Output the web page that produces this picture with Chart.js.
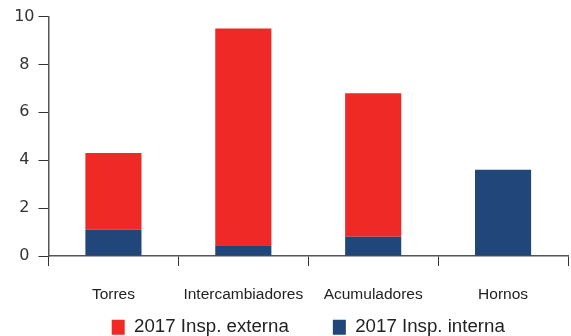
<!DOCTYPE html>
<html>
<head>
<meta charset="utf-8">
<script src="https://cdn.jsdelivr.net/npm/chart.js@4/dist/chart.umd.min.js"></script>
<style>
  html, body { margin: 0; padding: 0; background: #ffffff; }
  #wrap { width: 571px; height: 336px; }
</style>
</head>
<body>
<div id="wrap"><canvas id="c" width="571" height="336"></canvas></div>
<script>
// Equipment categories
const categories = ['Torres', 'Intercambiadores', 'Acumuladores', 'Hornos'];
// Inspections per category, stacked: internal at the base, external on top
const internalValues = [1.1, 0.45, 0.8, 3.6];
const externalValues = [3.2, 9.05, 6.0, 0];
const seriesNames = ['2017 Insp. interna', '2017 Insp. externa'];
const yTicks = [0, 2, 4, 6, 8, 10];

const RED = '#EE2926';
const BLUE = '#214679';
const AXIS = '#555555';

// The x axis box is kept short so the legend can sit close under it;
// stretch its bottom edge afterwards so its labels are not clipped.
const extendXAxis = {
  id: 'extendXAxis',
  afterLayout(chart) {
    chart.scales.x.bottom = chart.height;
  }
};

new Chart(document.getElementById('c'), {
  type: 'bar',
  data: {
    labels: categories,
    datasets: [
      { label: seriesNames[0], data: internalValues, backgroundColor: BLUE, borderWidth: 0 },
      { label: seriesNames[1], data: externalValues, backgroundColor: RED, borderWidth: 0 }
    ]
  },
  plugins: [extendXAxis],
  options: {
    responsive: false,
    animation: false,
    devicePixelRatio: 1,
    layout: { padding: { top: 16.5, right: 3, left: 0, bottom: 0 } },
    datasets: { bar: { barPercentage: 0.432, categoryPercentage: 1 } },
    plugins: {
      tooltip: { enabled: false },
      legend: {
        position: 'bottom',
        fullSize: false,
        reverse: true,
        maxHeight: 62,
        labels: {
          boxWidth: 13,
          boxHeight: 15,
          padding: 44,
          color: '#222222',
          font: { family: '"Liberation Sans", Arial, sans-serif', size: 18.7 }
        }
      }
    },
    scales: {
      x: {
        stacked: true,
        offset: true,
        border: { display: true, color: AXIS, width: 1.5 },
        grid: {
          offset: true,
          drawOnChartArea: false,
          drawTicks: true,
          tickLength: 10,
          tickColor: '#333333',
          tickWidth: 1
        },
        ticks: {
          padding: 19,
          color: '#222222',
          font: { family: '"Liberation Sans", Arial, sans-serif', size: 15.5 },
          maxRotation: 0,
          autoSkip: false
        },
        afterFit: (scale) => { scale.height = 18; }
      },
      y: {
        stacked: true,
        min: 0,
        max: 10,
        afterBuildTicks: (scale) => { scale.ticks = yTicks.map(v => ({ value: v })); },
        border: { display: true, color: AXIS, width: 1.5 },
        grid: {
          drawOnChartArea: false,
          drawTicks: true,
          tickLength: 10,
          tickColor: '#333333',
          tickWidth: 1
        },
        ticks: {
          padding: 4,
          crossAlign: 'center',
          color: '#333333',
          font: { family: '"DejaVu Sans", Verdana, sans-serif', size: 16 }
        },
        afterFit: (scale) => { scale.width = 48.5; }
      }
    }
  }
});
</script>
</body>
</html>
